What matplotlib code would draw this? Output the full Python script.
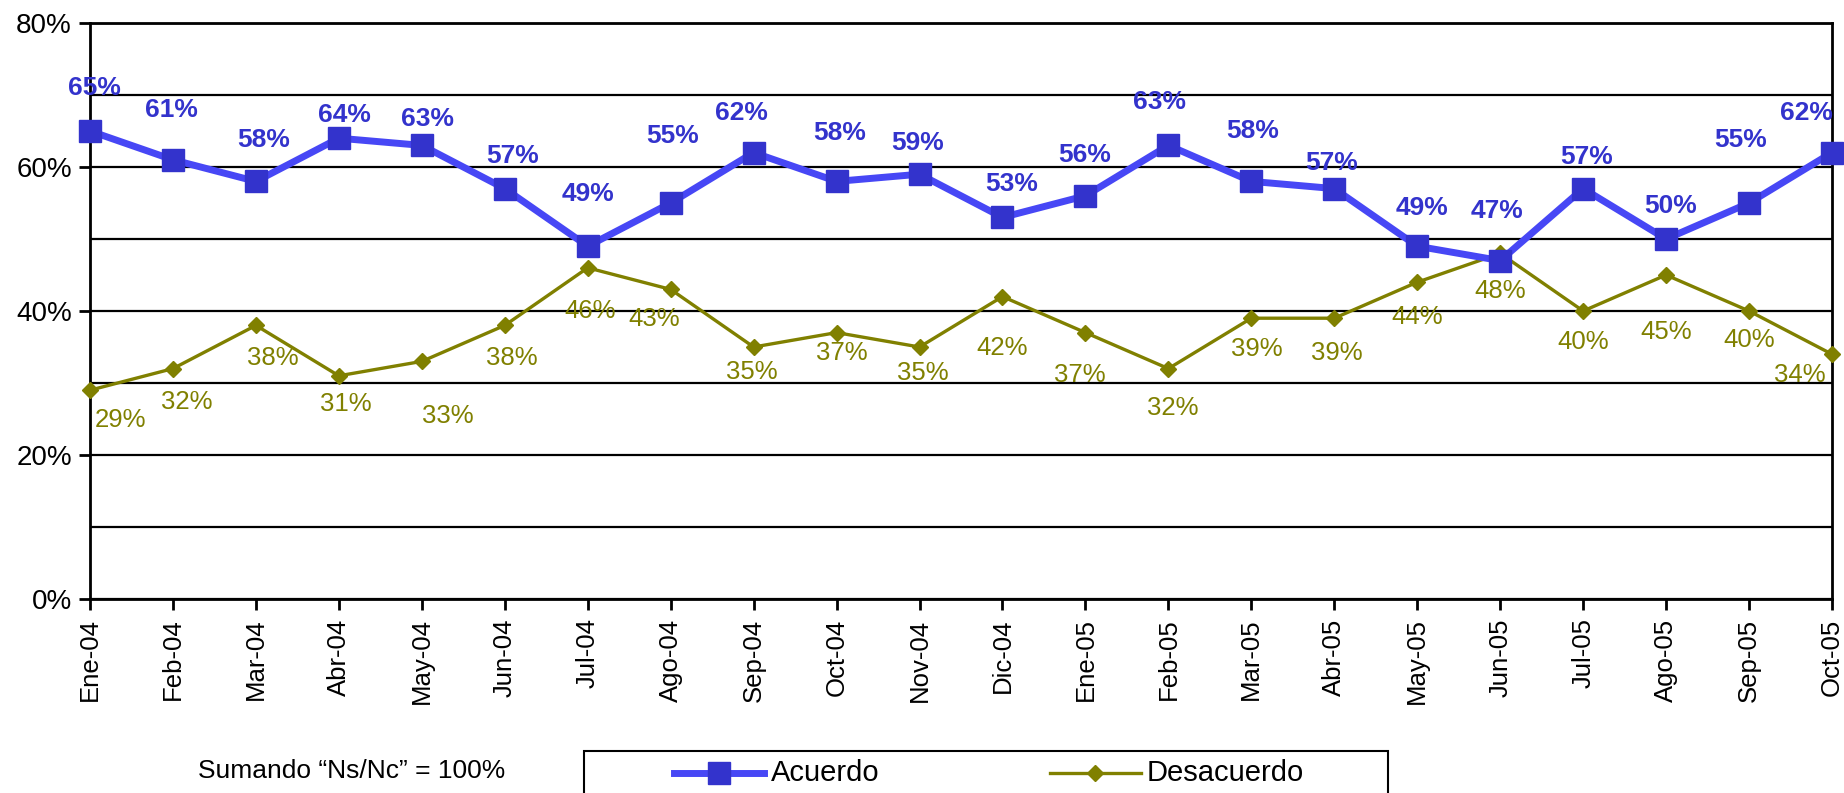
import matplotlib
matplotlib.use("Agg")
import matplotlib.pyplot as plt
from matplotlib.lines import Line2D
from matplotlib.patches import Rectangle

months = ["Ene-04", "Feb-04", "Mar-04", "Abr-04", "May-04", "Jun-04", "Jul-04", "Ago-04",
          "Sep-04", "Oct-04", "Nov-04", "Dic-04", "Ene-05", "Feb-05", "Mar-05", "Abr-05",
          "May-05", "Jun-05", "Jul-05", "Ago-05", "Sep-05", "Oct-05"]
acuerdo = [65, 61, 58, 64, 63, 57, 49, 55, 62, 58, 59, 53, 56, 63, 58, 57, 49, 47, 57, 50, 55, 62]
desacuerdo = [29, 32, 38, 31, 33, 38, 46, 43, 35, 37, 35, 42, 37, 32, 39, 39, 44, 48, 40, 45, 40, 34]
y_ticks = [0, 20, 40, 60, 80]
y_tick_labels = ["0%", "20%", "40%", "60%", "80%"]
note_text = "Sumando \u201cNs/Nc\u201d = 100%"
series_names = ["Acuerdo", "Desacuerdo"]

# label placement (percentage points above/below, pixel shift)
acu_dy = [6.0, 6.9, 5.75, 3.2, 3.6, 4.5, 7.2, 9.3, 5.5, 6.7, 4.3, 4.6, 5.7, 6.0, 7.0, 3.5, 5.3, 6.9, 4.4, 4.6, 8.8, 5.5]
acu_dx = [4, -2, 8, 6, 6, 8, 0, 2, -12, 3, -2, 9, -1, -9, 1, -3, 5, -3, 3, 4, -8, -26]
des_dy = [-4.1, -4.6, -4.5, -3.9, -7.6, -4.5, -6.0, -4.1, -3.5, -2.8, -3.6, -7.1, -5.9, -5.5, -4.3, -4.8, -4.8, -5.2, -4.3, -7.9, -4.0, -2.9]
des_dx = [30, 14, 17, 7, 26, 7, 2, -16, -2, 5, 3, 0, -6, 4, 5, 3, 0, 0, 0, 0, 0, -32]

BLUE_M = "#3333CC"
BLUE_L = "#4747F5"
OLIVE = "#808000"

plt.rcParams['font.family'] = ['Liberation Sans', 'DejaVu Sans']

W, H = 1844, 793
fig = plt.figure(figsize=(W / 100, H / 100), dpi=100)
ax = fig.add_axes([90 / W, 1 - 599 / H, (1832 - 90) / W, (599 - 23) / H])

x = list(range(len(months)))
ax.plot(x, acuerdo, color=BLUE_L, lw=5, marker="s", ms=16, mfc=BLUE_M, mec=BLUE_M,
        zorder=4, clip_on=False)
ax.plot(x, desacuerdo, color=OLIVE, lw=2.4, marker="D", ms=8, mfc=OLIVE, mec=OLIVE,
        zorder=3, clip_on=False)

px = 0.72  # points per pixel at 100 dpi
for i, v in enumerate(acuerdo):
    ax.annotate(f"{v}%", xy=(i, v + acu_dy[i]), xytext=(acu_dx[i] * px, 0),
                textcoords="offset points", ha="center", va="center",
                fontsize=19, fontweight="bold", color=BLUE_M, zorder=6,
                annotation_clip=False)
for i, v in enumerate(desacuerdo):
    ax.annotate(f"{v}%", xy=(i, v + des_dy[i]), xytext=(des_dx[i] * px, 0),
                textcoords="offset points", ha="center", va="center",
                fontsize=18.5, color=OLIVE, zorder=6, annotation_clip=False)

ax.set_xlim(0, len(months) - 1)
ax.set_ylim(0, 80)
ax.set_yticks(y_ticks)
ax.set_yticklabels(y_tick_labels, fontsize=20)
ax.set_yticks([10, 30, 50, 70], minor=True)
ax.tick_params(axis="y", which="minor", length=0)
ax.tick_params(axis="y", which="major", length=8, width=2, direction="out", pad=5)
ax.set_xticks(x)
ax.set_xticklabels(months, rotation=90, fontsize=18.5)
ax.tick_params(axis="x", length=8, width=2, direction="out", pad=6)
ax.yaxis.grid(True, which="both", color="black", lw=1.6)
ax.set_axisbelow(True)
for s in ax.spines.values():
    s.set_color("black")
    s.set_linewidth(2)

# note text
fig.text(352 / W, 1 - 771 / H, note_text, ha="center", va="center", fontsize=19)

# legend box
rect = Rectangle((584 / W, -0.05), (1388 - 584) / W, 0.05 + (1 - 751 / H),
                 transform=fig.transFigure, fill=False, edgecolor="black", lw=1.5,
                 clip_on=False)
fig.patches.append(rect)
ly = 1 - 773 / H
fig.add_artist(Line2D([674 / W, 764 / W], [ly, ly], transform=fig.transFigure,
                      color=BLUE_L, lw=5))
fig.add_artist(Line2D([719 / W], [ly], transform=fig.transFigure, marker="s", ms=16,
                      mfc=BLUE_M, mec=BLUE_M, lw=0))
fig.text(771 / W, ly, series_names[0], ha="left", va="center", fontsize=21)
fig.add_artist(Line2D([1050 / W, 1141 / W], [ly, ly], transform=fig.transFigure,
                      color=OLIVE, lw=2.4))
fig.add_artist(Line2D([1095 / W], [ly], transform=fig.transFigure, marker="D", ms=8,
                      mfc=OLIVE, mec=OLIVE, lw=0))
fig.text(1147 / W, ly, series_names[1], ha="left", va="center", fontsize=21)

fig.savefig("out.png", dpi=100)
